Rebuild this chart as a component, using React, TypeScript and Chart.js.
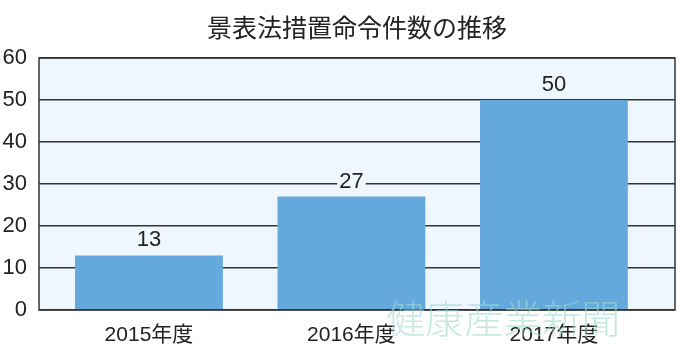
import { useEffect, useRef } from "react";
import { Chart, registerables } from "chart.js";

Chart.register(...registerables);

const categories = ["2015年度", "2016年度", "2017年度"];
const counts = [13, 27, 50];
const yMin = 0;
const yMax = 60;
const yStep = 10;
const titleText = "景表法措置命令件数の推移";
const watermarkText = "健康産業新聞";

const NUM_FONT = "'Liberation Sans Narrow', 'Liberation Sans', 'Noto Sans CJK JP', sans-serif";
const CJK_FONT = "'Noto Sans CJK JP', sans-serif";
const PLOT_BG = "#eef6fe";
const BAR_COLOR = "#64a9dc";
const LINE_COLOR = "#333333";

const plotPlugin = {
  id: "plotDecor",
  beforeDraw(chart: any) {
    const { ctx, chartArea: a, width, height } = chart;
    ctx.save();
    ctx.fillStyle = "#ffffff";
    ctx.fillRect(0, 0, width, height);
    ctx.fillStyle = PLOT_BG;
    ctx.fillRect(a.left, a.top, a.right - a.left, a.bottom - a.top);
    ctx.restore();
  },
  afterDatasetsDraw(chart: any) {
    const { ctx, chartArea: a } = chart;
    const meta = chart.getDatasetMeta(0);
    ctx.save();
    ctx.font = `22px ${NUM_FONT}`;
    ctx.textAlign = "center";
    ctx.textBaseline = "alphabetic";
    meta.data.forEach((bar: any, i: number) => {
      const txt = String(counts[i]);
      const w = ctx.measureText(txt).width;
      const base = bar.y - 9;
      ctx.fillStyle = PLOT_BG;
      ctx.fillRect(bar.x - w / 2 - 2, base - 17, w + 4, 17);
      ctx.fillStyle = "#222222";
      ctx.fillText(txt, bar.x, base);
    });
    ctx.strokeStyle = LINE_COLOR;
    ctx.lineWidth = 1.5;
    ctx.strokeRect(a.left, a.top, a.right - a.left, a.bottom - a.top);
    ctx.restore();
  },
  afterDraw(chart: any) {
    const { ctx, chartArea: a } = chart;
    const xs = chart.scales.x;
    ctx.save();
    ctx.font = `300 39px ${CJK_FONT}`;
    ctx.textAlign = "center";
    ctx.textBaseline = "middle";
    ctx.fillStyle = "rgba(160, 216, 208, 0.6)";
    ctx.fillText(watermarkText, xs.getPixelForValue(1.75), a.bottom + 8);
    ctx.restore();
  },
};

export default function App() {
  const ref = useRef<HTMLCanvasElement | null>(null);

  useEffect(() => {
    document.body.style.margin = "0";
    if (!ref.current) return;
    const chart = new Chart(ref.current, {
      type: "bar",
      data: {
        datasets: [
          {
            data: counts.map((v, i) => ({ x: i, y: v })),
            backgroundColor: BAR_COLOR,
            borderWidth: 0,
            categoryPercentage: 1,
            barPercentage: 0.73,
          },
        ],
      },
      options: {
        animation: false,
        responsive: false,
        maintainAspectRatio: false,
        layout: { padding: { left: 0, right: 20, top: 0, bottom: 0 } },
        plugins: {
          legend: { display: false },
          tooltip: { enabled: false },
          title: {
            display: true,
            fullSize: false,
            text: titleText,
            color: "#222222",
            font: { family: CJK_FONT, size: 25, weight: "normal", lineHeight: 1.2 },
            padding: { top: 12, bottom: 16 },
          },
        },
        scales: {
          x: {
            type: "linear",
            offset: false,
            min: -0.543,
            max: 2.598,
            grid: { display: false, drawTicks: false },
            border: { display: false },
            afterBuildTicks: (scale: any) => {
              scale.ticks = categories.map((_, i) => ({ value: i }));
            },
            afterFit: (scale: any) => {
              scale.height = 50;
            },
            ticks: {
              padding: 13,
              color: "#222222",
              font: { family: NUM_FONT, size: 21 },
              callback: (v: any) => categories[Math.round(Number(v))] ?? "",
              maxRotation: 0,
              autoSkip: false,
            },
          },
          y: {
            min: yMin,
            max: yMax,
            grid: { color: LINE_COLOR, lineWidth: 1.5, drawTicks: false },
            border: { display: false },
            afterFit: (scale: any) => {
              scale.width = 39;
            },
            ticks: {
              stepSize: yStep,
              padding: 12,
              color: "#222222",
              font: { family: NUM_FONT, size: 22 },
            },
          },
        },
      },
      plugins: [plotPlugin],
    } as any);
    return () => chart.destroy();
  }, []);

  return <canvas ref={ref} width={695} height={360} style={{ display: "block" }} />;
}
